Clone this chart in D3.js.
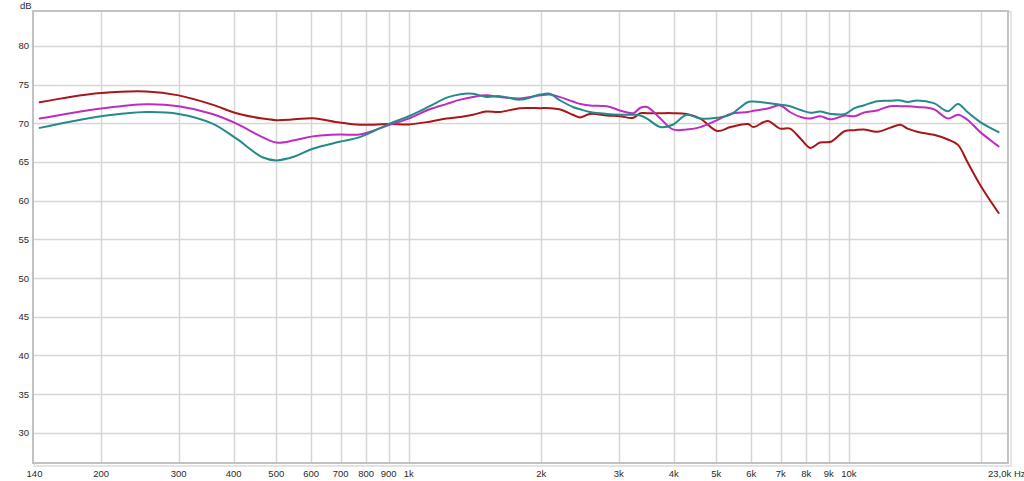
<!DOCTYPE html>
<html>
<head>
<meta charset="utf-8">
<script src="https://cdn.jsdelivr.net/npm/d3@7"></script>
<style>
  html, body { margin: 0; padding: 0; background: #fff; }
  svg { display: block; }
  text { font-family: "Liberation Sans", Arial, sans-serif; font-size: 9.5px; fill: #2a2a2a; }
</style>
</head>
<body>
<svg id="chart" width="1024" height="481"></svg>
<script>
// ---- data (frequency in Hz, level in dB) ----
const freqs = [145, 170, 200, 253, 300, 358, 406, 465, 500, 550, 605, 696, 774, 905, 1000,
  1116, 1220, 1310, 1400, 1500, 1610, 1790, 1990, 2090, 2200, 2360, 2450, 2580, 2820, 3020,
  3240, 3360, 3480, 3730, 3980, 4280, 4600, 5020, 5380, 5900, 6070, 6540, 6980, 7350, 7770,
  8180, 8600, 9100, 9800, 10300, 10800, 11600, 12400, 13100, 13600, 14300, 15600, 16800, 17700,
  18600, 19900, 21900];

const redDb = [72.7, 73.4, 73.9, 74.1, 73.6, 72.4, 71.3, 70.6, 70.4, 70.5, 70.65, 70.1, 69.8, 69.9, 69.85,
  70.2, 70.6, 70.8, 71.1, 71.5, 71.45, 71.95, 71.95, 71.95, 71.8, 71.1, 70.75, 71.2, 71.0, 70.9,
  70.7, 71.3, 71.3, 71.3, 71.3, 71.2, 70.6, 69.0, 69.5, 69.9, 69.5, 70.3, 69.3, 69.3, 68.0,
  66.8, 67.5, 67.6, 69.0, 69.1, 69.2, 68.9, 69.4, 69.8, 69.3, 68.9, 68.5, 67.9, 67.2,
  65.0, 62.0, 58.4];

const magentaDb = [70.6, 71.3, 71.9, 72.45, 72.2, 71.2, 69.95, 68.2, 67.5, 67.8, 68.3, 68.55, 68.55, 69.8, 70.6,
  71.8, 72.5, 73.05, 73.4, 73.6, 73.4, 73.2, 73.6, 73.7, 73.4, 72.8, 72.5, 72.3, 72.2, 71.65,
  71.3, 72.0, 72.1, 70.6, 69.2, 69.2, 69.5, 70.4, 71.2, 71.45, 71.6, 71.9, 72.3, 71.45, 70.8,
  70.6, 70.9, 70.5, 71.0, 70.9, 71.35, 71.65, 72.2, 72.2, 72.2, 72.1, 71.8, 70.6, 71.1,
  70.45, 68.85, 67.0];

const tealDb = [69.4, 70.2, 70.9, 71.45, 71.2, 69.95, 68.0, 65.6, 65.2, 65.7, 66.7, 67.6, 68.2, 69.95, 70.9,
  72.2, 73.3, 73.75, 73.8, 73.4, 73.5, 73.05, 73.7, 73.8, 73.0, 72.1, 71.8, 71.45, 71.2, 71.1,
  71.1, 71.0, 70.6, 69.5, 69.8, 71.1, 70.6, 70.7, 71.1, 72.75, 72.8, 72.6, 72.4, 72.2, 71.7,
  71.35, 71.5, 71.2, 71.2, 71.95, 72.3, 72.85, 72.9, 72.95, 72.75, 72.95, 72.6, 71.55, 72.5,
  71.45, 70.15, 68.85];

const yTicks = [30, 35, 40, 45, 50, 55, 60, 65, 70, 75, 80];
const xGridTicks = [200, 300, 400, 500, 600, 700, 800, 900, 1000, 2000, 3000, 4000, 5000,
  6000, 7000, 8000, 9000, 10000, 20000];
const xLabelTicks = [140, 200, 300, 400, 500, 600, 700, 800, 900, 1000, 2000, 3000, 4000, 5000,
  6000, 7000, 8000, 9000, 10000];
const xLabelText = ["140", "200", "300", "400", "500", "600", "700", "800", "900", "1k", "2k", "3k", "4k", "5k",
  "6k", "7k", "8k", "9k", "10k"];
const endLabel = "23,0k Hz";
const yUnit = "dB";
const series = [
  { name: "red", values: redDb, color: "#a8161a" },
  { name: "magenta", values: magentaDb, color: "#bf2cbf" },
  { name: "teal", values: tealDb, color: "#268a8a" }
];

// ---- layout ----
const pL = 33, pR = 1008, pT = 11, pB = 463;
const x = d3.scaleLog().domain([140, 23000]).range([pL, pR]);
const y = d3.scaleLinear().domain([26.1, 84.5]).range([pB, pT]);

const svg = d3.select("#chart");

// frame shadow
svg.append("rect")
  .attr("x", pL + 1).attr("y", pT + 1)
  .attr("width", pR - pL + 2).attr("height", pB - pT + 2)
  .attr("fill", "none").attr("stroke", "#e4e4e4").attr("stroke-width", 2);

svg.append("rect")
  .attr("x", pL).attr("y", pT)
  .attr("width", pR - pL).attr("height", pB - pT)
  .attr("fill", "#fff");

// grid
const grid = svg.append("g");
grid.selectAll(".hg").data(yTicks).join("line")
  .attr("x1", pL).attr("x2", pR)
  .attr("y1", d => Math.round(y(d)) + 0.5).attr("y2", d => Math.round(y(d)) + 0.5)
  .attr("stroke", "#d6d6d6").attr("stroke-width", 1.5);
grid.selectAll(".vg").data(xGridTicks).join("line")
  .attr("y1", pT).attr("y2", pB)
  .attr("x1", d => Math.round(x(d)) + 0.5).attr("x2", d => Math.round(x(d)) + 0.5)
  .attr("stroke", "#d6d6d6").attr("stroke-width", 1.5);

// frame
svg.append("rect")
  .attr("x", pL).attr("y", pT)
  .attr("width", pR - pL).attr("height", pB - pT)
  .attr("fill", "none").attr("stroke", "#c2c2c2").attr("stroke-width", 2);

// y labels
svg.append("g").selectAll("text").data(yTicks).join("text")
  .attr("x", 29).attr("y", d => y(d) + 3.5)
  .attr("text-anchor", "end")
  .text(d => d);
svg.append("text").attr("x", 20).attr("y", 9).text(yUnit);

// x labels
svg.append("g").selectAll("text").data(xLabelTicks).join("text")
  .attr("x", (d, i) => i === 0 ? x(d) + 1.5 : x(d))
  .attr("y", 477)
  .attr("text-anchor", "middle")
  .text((d, i) => xLabelText[i]);
svg.append("text").attr("x", 988).attr("y", 477).text(endLabel);

// curves
const line = d3.line()
  .x((d, i) => x(freqs[i]))
  .y(d => y(d))
  .curve(d3.curveCatmullRom.alpha(0.5));

svg.append("g").selectAll("path").data(series).join("path")
  .attr("d", s => line(s.values))
  .attr("fill", "none")
  .attr("stroke", s => s.color)
  .attr("stroke-width", 2)
  .attr("stroke-linejoin", "round")
  .attr("stroke-linecap", "round");
</script>
</body>
</html>
